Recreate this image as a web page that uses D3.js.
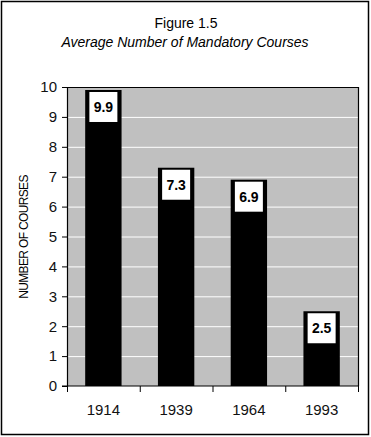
<!DOCTYPE html>
<html lang="en">
<head>
    <meta charset="UTF-8">
    <script src="https://cdn.jsdelivr.net/npm/d3@7"></script>
    <title>Figure 1.5</title>
    <style>
        body { margin: 0; background: #fff; }
        svg { display: block; font-family: Arial, "Liberation Sans", sans-serif; }
    </style>
</head>
<body>
<svg width="371" height="437"></svg>
<script>
    const years = ["1914", "1939", "1964", "1993"];
    const courses = [9.9, 7.3, 6.9, 2.5];
    const yTicks = [0, 1, 2, 3, 4, 5, 6, 7, 8, 9, 10];

    const LEFT = 67, RIGHT = 358, TOP = 87, BOTTOM = 386;

    const svg = d3.select("svg");

    // outer frame
    svg.append("rect")
        .attr("x", 1.5).attr("y", 1.5)
        .attr("width", 367).attr("height", 433)
        .attr("fill", "none").attr("stroke", "#000").attr("stroke-width", 1.5);

    svg.append("text")
        .attr("x", 186).attr("y", 28)
        .attr("text-anchor", "middle")
        .style("font-size", "14px")
        .text("Figure 1.5");
    svg.append("text")
        .attr("x", 185).attr("y", 47)
        .attr("text-anchor", "middle")
        .style("font-size", "14px").style("font-style", "italic")
        .text("Average Number of Mandatory Courses");

    const x = d3.scaleBand().domain(years).range([LEFT, RIGHT]).paddingInner(0.5).paddingOuter(0.25);
    const y = d3.scaleLinear().domain([0, 10]).range([BOTTOM, TOP]);

    svg.append("rect")
        .attr("x", LEFT).attr("y", TOP)
        .attr("width", RIGHT - LEFT).attr("height", BOTTOM - TOP)
        .attr("fill", "#c0c0c0");

    svg.append("g")
        .selectAll("line")
        .data(yTicks.slice(1, -1))
        .join("line")
        .attr("x1", LEFT).attr("x2", RIGHT)
        .attr("y1", d => y(d) + 0.5).attr("y2", d => y(d) + 0.5)
        .attr("stroke", "#fff").attr("stroke-width", 1);

    svg.append("g")
        .selectAll("rect")
        .data(courses)
        .join("rect")
        .attr("x", (d, i) => x(years[i]))
        .attr("y", d => y(d))
        .attr("width", x.bandwidth())
        .attr("height", d => BOTTOM - y(d))
        .attr("fill", "#000");

    // plot border (top & right)
    svg.append("path")
        .attr("d", `M${LEFT},${TOP + 0.5}H${RIGHT + 0.5}V${BOTTOM}`)
        .attr("fill", "none").attr("stroke", "#000").attr("stroke-width", 1.2);

    const labels = svg.append("g")
        .selectAll("g")
        .data(courses)
        .join("g")
        .attr("transform", (d, i) => `translate(${x(years[i]) + x.bandwidth() / 2},${y(d)})`);
    labels.append("rect")
        .attr("x", -14).attr("y", 2)
        .attr("width", 28).attr("height", 30)
        .attr("fill", "#fff");
    labels.append("text")
        .attr("y", 22)
        .attr("text-anchor", "middle")
        .style("font-size", "14px").style("font-weight", "bold")
        .text(d => d.toFixed(1));

    const yAxis = d3.axisLeft(y).tickValues(yTicks).tickSize(5).tickPadding(5);
    svg.append("g")
        .attr("transform", `translate(${LEFT},0)`)
        .call(yAxis)
        .call(g => g.selectAll("text").style("font-size", "15px").attr("fill", "#111"))
        .call(g => g.select(".domain").attr("stroke-width", 1.2));

    // x axis: ticks on category boundaries
    const xAxis = svg.append("g").attr("transform", `translate(0,${BOTTOM})`);
    xAxis.append("line")
        .attr("x1", LEFT - 5).attr("x2", RIGHT + 0.5)
        .attr("stroke", "#000").attr("stroke-width", 1.2);
    xAxis.selectAll("line.tick")
        .data(d3.range(years.length + 1))
        .join("line")
        .attr("class", "tick")
        .attr("x1", i => LEFT + 0.5 + i * (RIGHT - LEFT) / years.length)
        .attr("x2", i => LEFT + 0.5 + i * (RIGHT - LEFT) / years.length)
        .attr("y1", 0).attr("y2", 6)
        .attr("stroke", "#000");
    xAxis.selectAll("text")
        .data(years)
        .join("text")
        .attr("x", d => x(d) + x.bandwidth() / 2)
        .attr("y", 29)
        .attr("text-anchor", "middle")
        .attr("fill", "#111")
        .style("font-size", "15px")
        .text(d => d);

    svg.append("text")
        .attr("transform", "translate(28,237) rotate(-90)")
        .attr("text-anchor", "middle")
        .style("font-size", "12px")
        .style("letter-spacing", "-0.65px")
        .text("NUMBER OF COURSES");
</script>
</body>
</html>
